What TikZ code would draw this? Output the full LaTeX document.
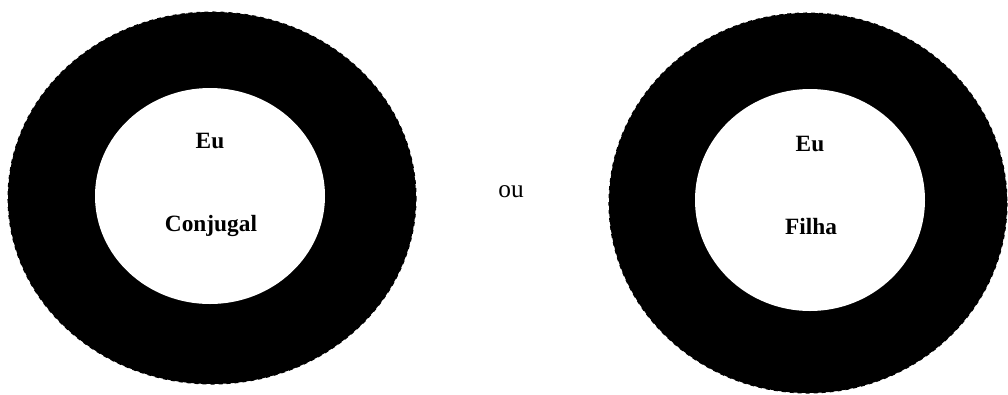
\documentclass[tikz,border=0pt]{standalone}
\usepackage{fontspec}
\setmainfont{Liberation Serif}

\begin{document}
\begin{tikzpicture}[y=-0.75pt,x=0.75pt,
    ring/.style={fill=black,draw=black,dashed,line width=0.8pt},
    hole/.style={fill=white},
    lbl/.style={anchor=base,font=\fontsize{17.5}{20}\selectfont\bfseries}]
  \useasboundingbox (0,0) rectangle (1008,394);
  % left ring
  \draw[ring] (212,198) ellipse (204 and 186);
  \fill[hole] (210,196) ellipse (115 and 108);
  \node[lbl] (euL) at (210,148) {Eu};
  \node[lbl] (conjugal) at (211,231) {Conjugal};
  % middle
  \node[anchor=base,font=\fontsize{19}{22}\selectfont] (ou) at (511,197) {ou};
  % right ring
  \draw[ring] (808,203) ellipse (199 and 190);
  \fill[hole] (810,200) ellipse (115 and 111);
  \node[lbl] (euR) at (810,151) {Eu};
  \node[lbl] (filha) at (811,234) {Filha};
\end{tikzpicture}
\end{document}
